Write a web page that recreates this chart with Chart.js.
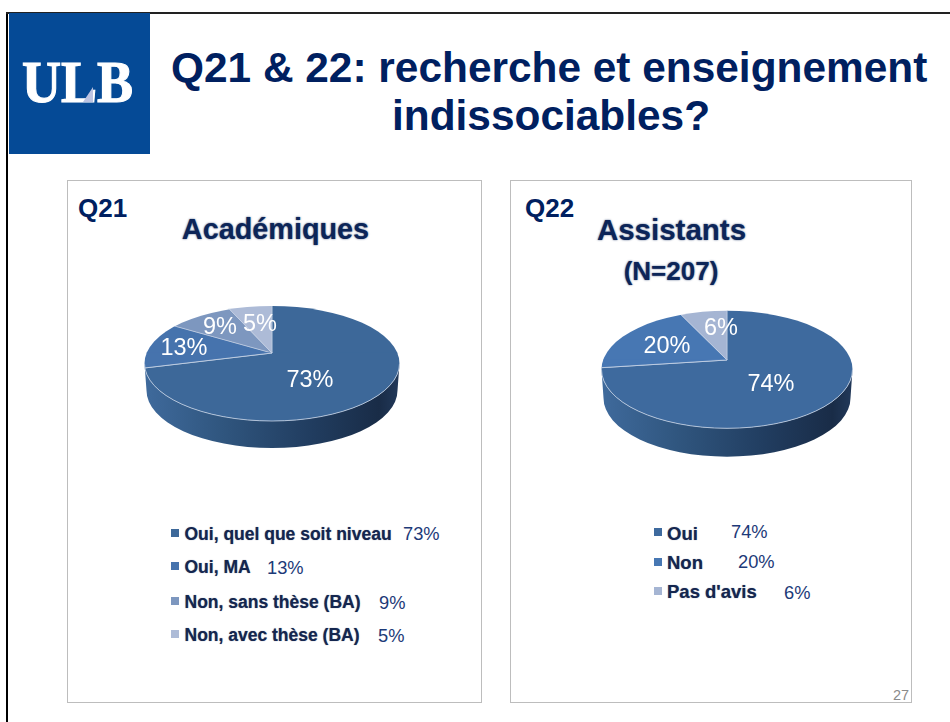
<!DOCTYPE html>
<html><head><meta charset="utf-8">
<script src="https://cdn.jsdelivr.net/npm/chart.js@4"></script>
<style>
html,body{margin:0;padding:0;background:#fff;}
body{width:950px;height:722px;position:relative;overflow:hidden;font-family:"Liberation Sans",Arial,sans-serif;}
.abs{position:absolute;white-space:nowrap;}
#frameL{left:6px;top:12px;width:2px;height:710px;background:#000;}
#frameT{left:6px;top:12px;width:944px;height:2px;background:#222;}
#logo{left:9px;top:13px;width:141px;height:141px;background:#054a96;}
#logoText{left:22px;top:49px;font:bold 60px/66px "Liberation Serif",serif;color:#fff;-webkit-text-stroke:1.2px #fff;transform:scaleX(.9);transform-origin:left;}
#logoTri{left:83px;top:87px;width:10px;height:15px;background:#bcc3e2;clip-path:polygon(100% 0,100% 100%,0 100%);}
.ttl{font-weight:bold;font-size:42.4px;color:#002060;line-height:48px;transform-origin:left bottom;}
.panel{border:1px solid #bdbdbd;box-sizing:border-box;background:#fff;}
.q{font-weight:bold;font-size:26px;color:#002060;}
.head{font-weight:bold;color:#0c2558;text-shadow:0 0 2px rgba(12,37,88,.75);transform:translateX(-50%);}
.swatch{width:8px;height:8px;display:block;}
.lab{font-weight:bold;color:#14264f;text-shadow:0 0 1px rgba(20,38,79,.6);}
.pct{font-size:18.3px;color:#1d3a78;}
canvas{position:absolute;display:block;}
#pg{left:893px;top:687px;font-size:14.5px;color:#8a8a8a;}
</style></head><body>
<div class="abs" id="frameL"></div><div class="abs" id="frameT"></div>
<div class="abs" id="logo"></div><div class="abs" id="logoText">ULB</div><div class="abs" id="logoTri"></div>
<div class="abs ttl" style="left:171px;top:44px;">Q21 &amp; 22: recherche et enseignement</div>
<div class="abs ttl" style="left:392px;top:92px;">indissociables?</div>
<div class="abs panel" style="left:67px;top:180px;width:415px;height:523px;"></div>
<div class="abs panel" style="left:510px;top:180px;width:402px;height:523px;"></div>
<div class="abs q" style="left:78px;top:193px;">Q21</div>
<div class="abs q" style="left:525px;top:193px;">Q22</div>
<div class="abs head" style="left:275.5px;top:213px;font-size:28.8px;">Académiques</div>
<div class="abs head" style="left:671.5px;top:213px;font-size:29.5px;">Assistants</div>
<div class="abs head" style="left:671px;top:256px;font-size:26px;">(N=207)</div>
<div class="abs" id="pg">27</div>
<canvas id="c21" width="400" height="320" style="left:72px;top:193px;width:400px;height:320px"></canvas>
<canvas id="c22" width="400" height="320" style="left:527px;top:200px;width:400px;height:320px"></canvas>
<div id="legends"></div>
<script>
const categories21 = ["Oui, quel que soit niveau", "Oui, MA", "Non, sans thèse (BA)", "Non, avec thèse (BA)"];
const values21 = [73, 13, 9, 5];
const colors21 = ["#3d6899", "#4673ad", "#7d97bf", "#adbbd7"];
const categories22 = ["Oui", "Non", "Pas d'avis"];
const values22 = [74, 20, 6];
const colors22 = ["#3e6a9e", "#4777b3", "#a5b5d3"];

// 3D-look styling of each pie (pixels around the pie's own centre)
const look21 = {kUp:.335, kDown:.93, dy:10.5, rx:127.5, ry:57.5, depth:27,
  labelOffsets:[[38,28],[-88,-4],[-52,-25],[-12,-28]]};
const look22 = {kUp:.39, kDown:.97, dy:9.5, rx:125.5, ry:58.8, depth:28.4,
  labelOffsets:[[44,25],[-60,-13],[-6,-31]]};
// legend placement: [swatch x, swatch y, label x, label centre y, percent x, percent centre y]
const legendPos21 = [[171,529,184.5,534,403,534],[171,562,184.5,567,267,568],[171,597,184.5,602,379,603],[171,630,184.5,635,378,636]];
const legendPos22 = [[654,528,667,534,731,532],[654,558,667,563,738,562],[654,587,667,592,784,593]];

const faceClip = (ctx, a, o, upper) => {
  ctx.beginPath();
  ctx.ellipse(a.x, a.y + o.dy, o.rx, o.ry, 0, 0, Math.PI*2);
  ctx.clip();
  ctx.beginPath();
  if (upper) ctx.rect(a.x-220, a.y-220, 440, 220.4);
  else ctx.rect(a.x-220, a.y-.4, 440, 220);
  ctx.clip();
  ctx.translate(a.x, a.y);
  ctx.scale(1, upper ? o.kUp : o.kDown);
  ctx.translate(-a.x, -a.y);
};

const tiltPlugin = {
  id: 'tilt',
  beforeDatasetsDraw(chart, args, o) {
    const ctx = chart.ctx, a = chart.getDatasetMeta(0).data[0];
    const cy = a.y + o.dy;
    const g = ctx.createLinearGradient(a.x-o.rx, 0, a.x+o.rx, 0);
    g.addColorStop(0, '#3f6a9c'); g.addColorStop(.3, '#30567f');
    g.addColorStop(.65, '#213d60'); g.addColorStop(.92, '#192c47'); g.addColorStop(1, '#22395a');
    ctx.save();
    ctx.fillStyle = g;
    ctx.beginPath();
    ctx.ellipse(a.x, cy, o.rx, o.ry, 0, Math.PI, 0, true);
    ctx.ellipse(a.x, cy + o.depth, o.rx-2, o.ry, 0, 0, Math.PI, false);
    ctx.closePath();
    ctx.fill();
    ctx.restore();
    ctx.save();
    faceClip(ctx, a, o, true);
  },
  afterDatasetsDraw(chart, args, o) {
    const ctx = chart.ctx, meta = chart.getDatasetMeta(0), a = meta.data[0];
    ctx.restore();
    ctx.save();
    faceClip(ctx, a, o, false);
    meta.controller.draw();
    ctx.restore();
    ctx.save();
    ctx.strokeStyle = 'rgba(190,205,225,.85)';
    ctx.lineWidth = 1;
    ctx.beginPath();
    ctx.ellipse(a.x, a.y + o.dy, o.rx, o.ry, 0, 0, Math.PI);
    ctx.stroke();
    ctx.fillStyle = '#fff';
    ctx.font = '23.5px "Liberation Sans", Arial, sans-serif';
    ctx.textAlign = 'center';
    ctx.textBaseline = 'middle';
    chart.data.datasets[0].data.forEach((v, i) => {
      const off = o.labelOffsets[i];
      ctx.fillText(v + '%', a.x + off[0], a.y + off[1]);
    });
    ctx.restore();
  }
};

function makePie(id, labels, values, colors, look) {
  return new Chart(document.getElementById(id), {
    type: 'pie',
    data: {labels, datasets: [{data: values, backgroundColor: colors, clip: false,
      borderColor: 'rgba(205,216,232,.8)', borderWidth: 1}]},
    options: {
      responsive: false, animation: false, radius: 165,
      layout: {padding: 0},
      plugins: {legend: {display: false}, tooltip: {enabled: false}, title: {display: false}, tilt: look}
    },
    plugins: [tiltPlugin]
  });
}
makePie('c21', categories21, values21, colors21, look21);
makePie('c22', categories22, values22, colors22, look22);

function makeLegend(labels, values, colors, pos, size) {
  const host = document.getElementById('legends');
  labels.forEach((t, i) => {
    const p = pos[i];
    const s = document.createElement('div');
    s.className = 'abs swatch'; s.style.cssText = `left:${p[0]}px;top:${p[1]}px;background:${colors[i]}`;
    const l = document.createElement('div');
    l.className = 'abs lab'; l.textContent = t;
    l.style.cssText = `left:${p[2]}px;top:${p[3]-11}px;font-size:${size}px;line-height:22px`;
    const v = document.createElement('div');
    v.className = 'abs pct'; v.textContent = values[i] + '%';
    v.style.cssText = `left:${p[4]}px;top:${p[5]-11}px;line-height:22px`;
    host.append(s, l, v);
  });
}
makeLegend(categories21, values21, colors21, legendPos21, 17.5);
makeLegend(categories22, values22, colors22, legendPos22, 18.5);
</script>
</body></html>
